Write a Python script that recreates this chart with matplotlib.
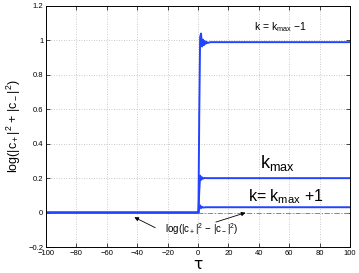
import matplotlib
matplotlib.use('Agg')
import matplotlib.pyplot as plt

plt.rcParams['font.family'] = ['Liberation Sans', 'DejaVu Sans']
plt.rcParams['mathtext.fontset'] = 'custom'
plt.rcParams['mathtext.rm'] = 'Liberation Sans'
plt.rcParams['mathtext.it'] = 'Liberation Sans:italic'

# Curve data (tau, value)
tau_a = [-100, 0.3, 0.8, 1.4, 2.0, 2.6, 3.2, 3.8, 4.4, 5.0, 5.6, 6.3, 8, 100]
val_a = [0, 0, 0.55, 1.02, 1.04, 0.965, 1.005, 0.972, 0.997, 0.98, 0.992, 0.985, 0.99, 0.99]

tau_b = [-100, 0.3, 0.8, 1.4, 2.0, 2.6, 3.2, 4, 5.5, 100]
val_b = [0, 0, 0.12, 0.215, 0.19, 0.205, 0.196, 0.201, 0.2, 0.2]

tau_c = [-100, 0.3, 0.8, 1.4, 2.0, 2.6, 3.4, 5, 100]
val_c = [0, 0, 0.03, 0.042, 0.025, 0.034, 0.029, 0.031, 0.031]

tau_d = [0, 100]
val_d = [0, 0]

xticks = [-100, -80, -60, -40, -20, 0, 20, 40, 60, 80, 100]
yticks = [-0.2, 0, 0.2, 0.4, 0.6, 0.8, 1, 1.2]
ytick_labels = ['\u22120.2', '0', '0.2', '0.4', '0.6', '0.8', '1', '1.2']
xtick_labels = ['\u2212100', '\u221280', '\u221260', '\u221240', '\u221220',
                '0', '20', '40', '60', '80', '100']

blue = '#2244ff'

fig = plt.figure(figsize=(3.59, 2.73), dpi=100)
ax = fig.add_axes([46 / 359, 26 / 273, 304 / 359, 241 / 273])

ax.plot(tau_a, val_a, color=blue, lw=1.4)
ax.plot(tau_b, val_b, color=blue, lw=1.4)
ax.plot(tau_c, val_c, color=blue, lw=1.4)
ax.plot(tau_d, val_d, color='#6080ff', lw=0.7, ls=(0, (5, 2, 1, 2)))

ax.set_xlim(-100, 100)
ax.set_ylim(-0.2, 1.2)
ax.set_xticks(xticks)
ax.set_xticklabels(xtick_labels)
ax.set_yticks(yticks)
ax.set_yticklabels(ytick_labels)
ax.tick_params(direction='in', top=True, right=True, labelsize=5.5,
               length=3, width=0.5, pad=2)
ax.grid(True, ls=(0, (1, 2)), color='#b8b8b8', lw=0.6)
for s in ax.spines.values():
    s.set_linewidth(0.7)

ax.set_xlabel('\u03c4', fontsize=11, labelpad=0, family='DejaVu Sans')
ax.set_ylabel(r'log(|c$_+$|$^2$ + |c$_-$|$^2$)', fontsize=9)
ax.yaxis.set_label_coords(-0.075, 0.5)

# curve labels
ax.text(54, 1.08, r'k = k$_{\rm max}$ $-$1', fontsize=7.5, ha='center', va='center')
ax.text(52, 0.29, r'k$_{\rm max}$', fontsize=13, ha='center', va='center')
ax.text(58, 0.09, r'k= k$_{\rm max}$ +1', fontsize=11.5, ha='center', va='center')

# annotation with two arrows
ax.text(2.5, -0.095, r'log(|c$_+$|$^2$ $-$ |c$_-$|$^2$)', fontsize=7,
        ha='center', va='center')
ax.annotate('', xy=(-43.5, -0.02), xytext=(-26.5, -0.095),
            arrowprops=dict(arrowstyle='-|>', lw=0.6, color='k',
                            mutation_scale=6))
ax.annotate('', xy=(33, 0.004), xytext=(10, -0.06),
            arrowprops=dict(arrowstyle='-|>', lw=0.6, color='k',
                            mutation_scale=6))

fig.savefig('out.png', dpi=100)
